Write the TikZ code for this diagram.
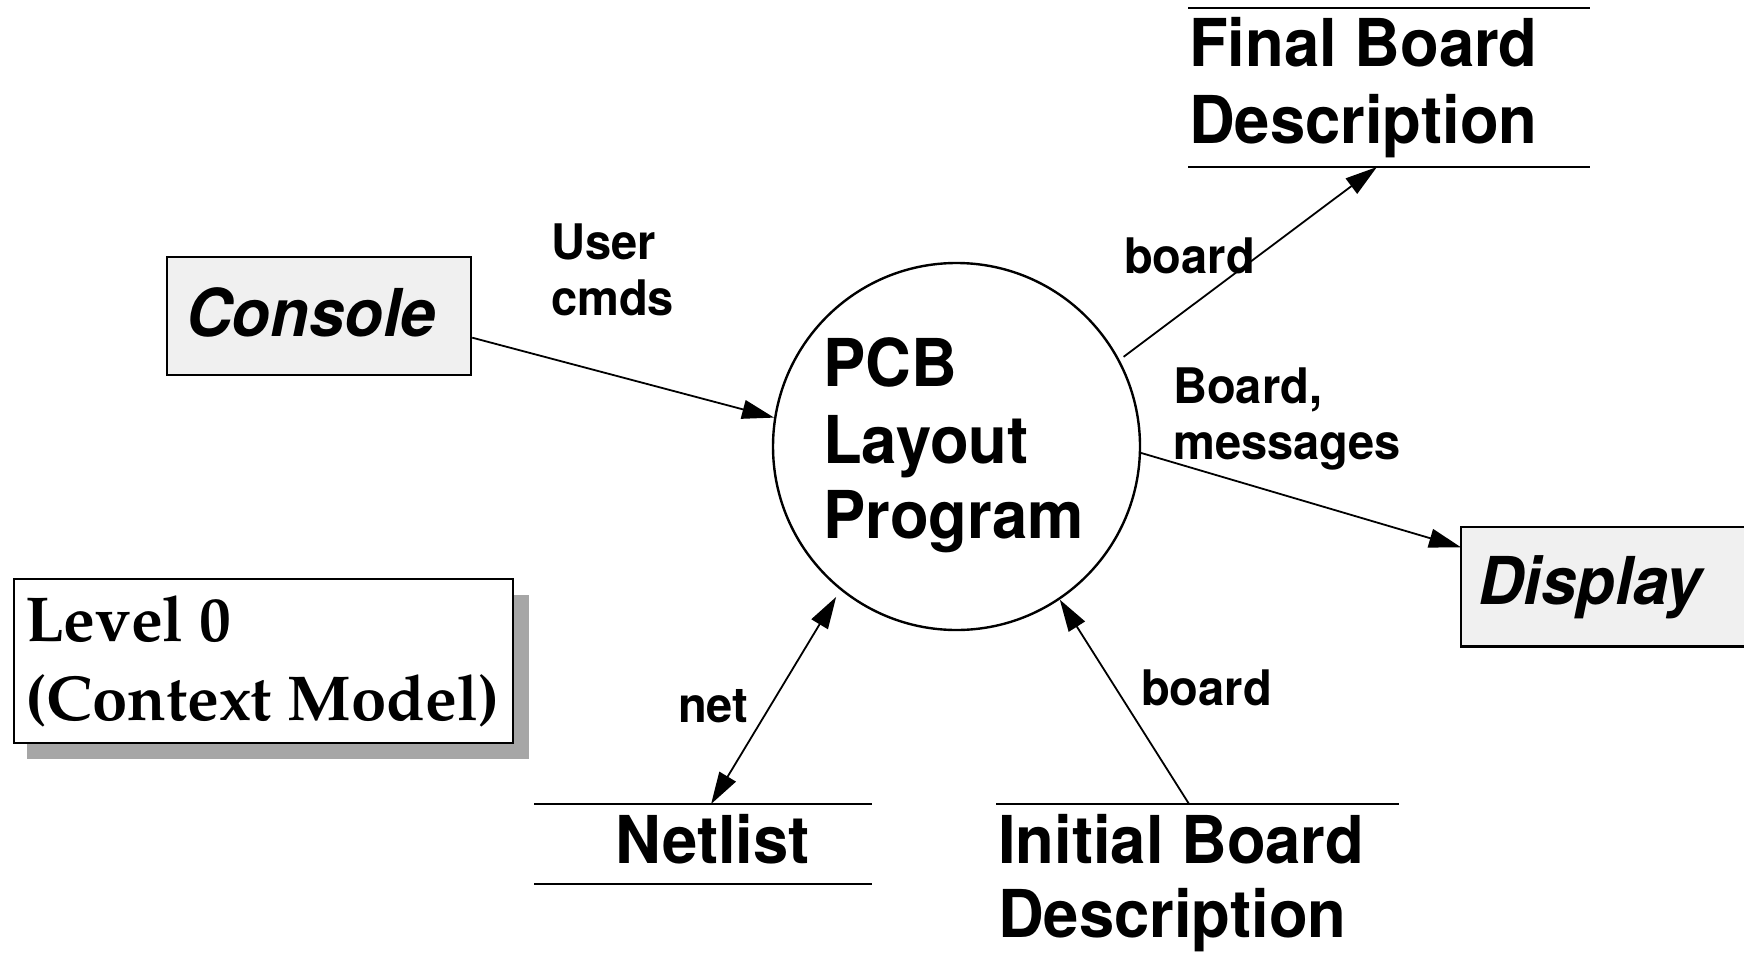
\documentclass[tikz,border=0pt]{standalone}
\usepackage[T1]{fontenc}
\usepackage{fontspec}
\setmainfont{TeX Gyre Heros}[FakeStretch=0.96]
\usetikzlibrary{arrows.meta,calc}
\definecolor{boxfill}{HTML}{F0F0F0}
\definecolor{shadowgray}{HTML}{A6A6A6}
\newcommand{\bigfont}{\fontsize{66}{76}\selectfont\bfseries}
\newcommand{\lblfont}{\fontsize{49}{54}\selectfont\bfseries}
\newcommand{\palfont}{\fontencoding{T1}\fontfamily{ppl}\fontseries{b}\fontshape{n}\fontsize{63.5}{79}\selectfont}
\tikzset{
  txt/.style={inner sep=0pt, anchor=base west},
  bigtxt/.style={txt, font=\bigfont},
  lbl/.style={txt, font=\lblfont},
  extbox/.style={draw, line width=2.4pt, fill=boxfill, inner sep=0pt},
  store/.style={line width=2.6pt},
  arr/.style={line width=1.8pt, -{Triangle[length=32pt,width=19pt]}},
  darr/.style={line width=1.8pt, {Triangle[length=32pt,width=19pt]}-{Triangle[length=32pt,width=19pt]}},
}
\begin{document}
\begin{tikzpicture}[x=1pt,y=-1pt]
\useasboundingbox (0,0) rectangle (1744,963);

% process
\node[circle, draw, line width=2.4pt, minimum size=367pt, inner sep=0pt] (pcb) at (956.5,446.5) {};
\node[bigtxt] (pcb1) at (823,386) {PCB};
\node[bigtxt] (pcb2) at (823,463) {Layout};
\node[bigtxt] (pcb3) at (823,538) {Program};

% Console
\node[extbox, minimum width=304pt, minimum height=118pt] (console) at (319,316) {};
\node[bigtxt, font=\bigfont\itshape] (constxt) at (186,336) {Console};
\coordinate (consoleout) at ($(console.south east)!0.32!(console.north east)$);

% Display (open on the right)
\node[fill=boxfill, minimum width=300pt, minimum height=119pt, anchor=north west, inner sep=0pt] (display) at (1461,527) {};
\draw[line width=2.4pt] ([xshift=20pt]display.north east) -- (display.north west) -- (display.south west) -- ([xshift=20pt]display.south east);
\node[bigtxt, font=\bigfont\itshape] (disptxt) at (1478,604) {Display};
\coordinate (dispin) at ($(display.north west)!0.17!(display.south west)$);

% Level 0 box with shadow
\fill[shadowgray] (27,595) rectangle (529,759);
\node[draw, line width=2.4pt, fill=white, minimum width=499pt, minimum height=164pt, anchor=north west, inner sep=0pt] (level) at (13,578) {};
\node[txt, font=\palfont] (lev1) at (25,641) {Level 0};
\node[txt, font=\palfont] (lev2) at (25,720) {(Context Model)};

% Final Board Description store
\coordinate (fbtl) at (1188,8);
\coordinate (fbtr) at (1590,8);
\coordinate (fbbl) at (1188,167);
\coordinate (fbbr) at (1590,167);
\draw[store] (fbtl) -- (fbtr);
\draw[store] (fbbl) -- (fbbr);
\node[bigtxt] (fb1) at (1189,67) {Final Board};
\node[bigtxt] (fb2) at (1189,143) {Description};
\coordinate (fbin) at ($(fbbl)!0.47!(fbbr)$);

% Netlist store
\coordinate (ntl) at (534,804);
\coordinate (ntr) at (872,804);
\coordinate (nbl) at (534,884);
\coordinate (nbr) at (872,884);
\draw[store] (ntl) -- (ntr);
\draw[store] (nbl) -- (nbr);
\node[bigtxt] (net1) at (615,863) {Netlist};
\coordinate (netin) at ($(ntl)!0.524!(ntr)$);

% Initial Board Description store
\coordinate (ibl) at (996,804);
\coordinate (ibr) at (1399,804);
\draw[store] (ibl) -- (ibr);
\node[bigtxt] (ib1) at (998,863) {Initial Board};
\node[bigtxt] (ib2) at (998,937) {Description};
\coordinate (ibout) at ($(ibl)!0.479!(ibr)$);

% flows
\draw[arr] (consoleout) -- (pcb.171.8);
\draw[arr, shorten <=5pt] (pcb.28.1) -- (fbin);
\draw[arr] (pcb.-2.3) -- (dispin);
\draw[darr, shorten >=8pt] (netin) -- (pcb.231.3);
\draw[arr] (ibout) -- (pcb.304.9);

% flow labels
\node[lbl] (uc1) at (551,259) {User};
\node[lbl] (uc2) at (551,315) {cmds};
\node[lbl] (bd1) at (1124,273) {board};
\node[lbl] (bm1) at (1173,403) {Board,};
\node[lbl] (bm2) at (1173,459) {messages};
\node[lbl] (nl) at (678,722) {net};
\node[lbl] (bd2) at (1141,705) {board};
\end{tikzpicture}
\end{document}
